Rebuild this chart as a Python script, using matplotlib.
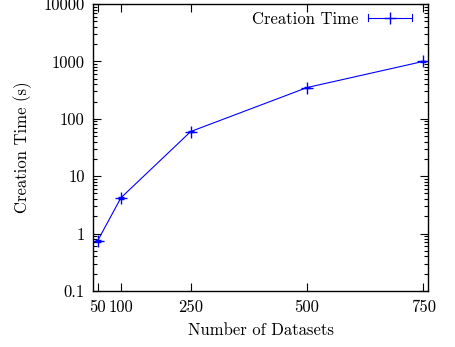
import matplotlib
matplotlib.use("Agg")
import matplotlib.pyplot as plt
from matplotlib.lines import Line2D
from matplotlib.legend_handler import HandlerBase
from matplotlib.ticker import LogLocator, FixedLocator, NullFormatter

plt.rcParams["font.family"] = ["cmr10", "DejaVu Serif"]
plt.rcParams["axes.formatter.use_mathtext"] = True
plt.rcParams["font.size"] = 12

# datos
datasets = [50, 100, 250, 500, 750]
creation_time = [0.75, 4.2, 60, 350, 1000]
error = [0.03, 0.15, 2, 10, 30]
xticks = [50, 100, 250, 500, 750]
yticks = [0.1, 1, 10, 100, 1000, 10000]
ylabels = ["0.1", "1", "10", "100", "1000", "10000"]


class GnuplotErrHandler(HandlerBase):
    # muestra tipo gnuplot: linea horizontal con topes y un + al centro
    def create_artists(self, legend, orig_handle, xdescent, ydescent,
                       width, height, fontsize, trans):
        y = height / 2 - ydescent
        x0, x1 = -xdescent, width - xdescent
        h = height * 0.3
        kw = dict(color="blue", lw=0.8, transform=trans)
        arts = [Line2D([x0, x1], [y, y], **kw),
                Line2D([x0, x0], [y - h, y + h], **kw),
                Line2D([x1, x1], [y - h, y + h], **kw),
                Line2D([(x0 + x1) / 2], [y], marker="+", markersize=8,
                       linestyle="none", color="blue", transform=trans)]
        return arts


fig = plt.figure(figsize=(4.55, 3.47), dpi=100)
ax = fig.add_axes([0.2044, 0.1614, 0.7363, 0.8271])

eb = ax.errorbar(datasets, creation_time, yerr=error, color="blue", linewidth=0.8,
                 marker="+", markersize=8, capsize=2, elinewidth=0.8,
                 label="Creation Time")

ax.set_yscale("log")
ax.set_xlim(40, 760)
ax.set_ylim(0.1, 10000)
ax.xaxis.set_major_locator(FixedLocator(xticks))
ax.set_xticklabels([str(v) for v in xticks])
ax.yaxis.set_major_locator(FixedLocator(yticks))
ax.set_yticklabels(ylabels)
ax.yaxis.set_minor_locator(LogLocator(base=10, subs=range(2, 10), numticks=20))
ax.yaxis.set_minor_formatter(NullFormatter())

ax.tick_params(which="both", direction="in", top=True, right=True, pad=6)
ax.tick_params(which="major", length=6, width=0.8)
ax.tick_params(which="minor", length=3, width=0.8)
for s in ax.spines.values():
    s.set_linewidth(1.0)

ax.set_xlabel("Number of Datasets", labelpad=6)
ax.set_ylabel("Creation Time (s)", labelpad=8)

ax.legend([eb], ["Creation Time"], handler_map={type(eb): GnuplotErrHandler()},
          loc="upper right", bbox_to_anchor=(0.991, 1.021),
          frameon=False, markerfirst=False,
          handlelength=2.6, handletextpad=0.6, borderaxespad=0.6,
          borderpad=0.2)

fig.savefig("out.png", dpi=100)
plt.close(fig)
